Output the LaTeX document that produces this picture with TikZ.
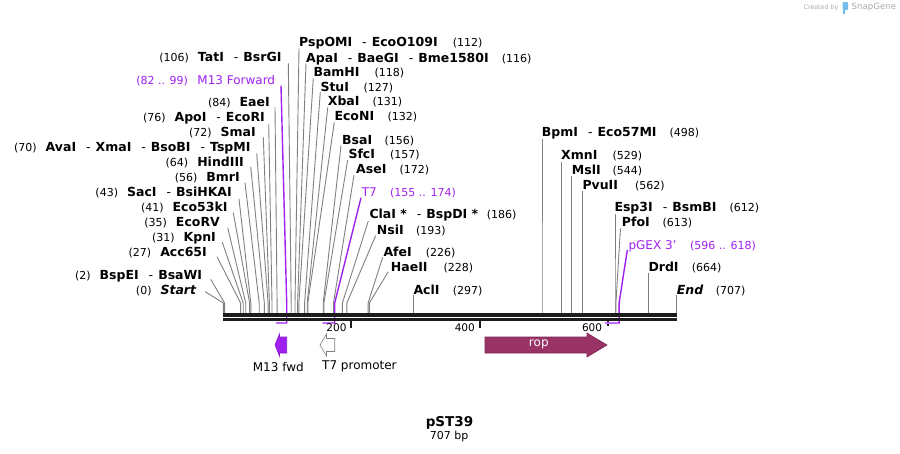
\documentclass[tikz,border=0pt]{standalone}
\usepackage{fontspec}
\setmainfont{DejaVu Sans}
\definecolor{ln}{RGB}{128,128,128}
\definecolor{pp}{RGB}{160,32,240}
\definecolor{ropc}{RGB}{153,51,102}
\definecolor{bb}{RGB}{28,28,28}
\definecolor{sg}{RGB}{170,170,170}
\definecolor{sgb}{RGB}{120,190,235}
\newcommand{\ensep}{\hspace{10pt}\textmd{-}\hspace{5pt}}
% left-side label: id, right x, y, name, (unused), pos, site x, end x, end y
\newcommand{\LL}[9]{%
  \node[nm,anchor=base east] (n#1) at (#2,#3+4.4) {#4};
  \node[ps,anchor=base east] (p#1) at ([xshift=-8.6pt]n#1.base west) {#6};
  \coordinate (b#1) at (#7,313);
  \coordinate (s#1) at (#7,303);
  \coordinate (e#1) at (#8,#9);
  \draw[cut] (b#1) -- (s#1) -- (e#1);}
% right-side label: id, left x, y, name, pos x, pos, site x, end x, end y
\newcommand{\RL}[9]{%
  \node[nm,anchor=base west] (n#1) at (#2,#3+4.4) {#4};
  \node[ps,anchor=base west] (p#1) at (#5,#3+4.4) {#6};
  \coordinate (b#1) at (#7,313);
  \coordinate (s#1) at (#7,303);
  \coordinate (e#1) at (#8,#9);
  \draw[cut] (b#1) -- (s#1) -- (e#1);}
\begin{document}
\begin{tikzpicture}[x=1pt,y=-1pt,
  nm/.style={font=\fontsize{12.5}{14}\selectfont\bfseries, inner sep=0pt},
  ps/.style={font=\fontsize{11}{13}\selectfont, inner sep=0pt},
  pl/.style={font=\fontsize{12}{14}\selectfont, text=pp, inner sep=0pt},
  pr/.style={font=\fontsize{11}{13}\selectfont, text=pp, inner sep=0pt},
  cut/.style={draw=ln, line width=0.9pt},
  pcut/.style={draw=pp, line width=1.4pt},
  bone/.style={draw=bb},
  tick/.style={draw=bb, line width=2pt},
  sc/.style={font=\fontsize{10.5}{12}\selectfont, inner sep=0pt, anchor=base east},
  feat/.style={line width=0.6pt},
  flab/.style={font=\fontsize{12}{14}\selectfont, inner sep=0pt}]
\useasboundingbox (0,0) rectangle (900,453);

% left labels
\LL{TatI}{281.7}{56.7}{TatI\ensep BsrGI}{}{(106)}{291.2}{288.3}{63.3}
\LL{EaeI}{270}{101.7}{EaeI}{}{(84)}{277.1}{275}{107.3}
\LL{ApoI}{265}{117.3}{ApoI\ensep EcoRI}{}{(76)}{272.0}{268.7}{124}
\LL{SmaI}{256}{131.7}{SmaI}{}{(72)}{269.4}{263.3}{137.3}
\LL{AvaI}{250.7}{147.3}{AvaI\ensep XmaI\ensep BsoBI\ensep TspMI}{}{(70)}{268.1}{256.7}{153.3}
\LL{HindIII}{244}{161.7}{HindIII}{}{(64)}{264.3}{250.7}{166.7}
\LL{BmrI}{240}{176.7}{BmrI}{}{(56)}{259.2}{245}{182.7}
\LL{SacI}{232}{191.7}{SacI\ensep BsiHKAI}{}{(43)}{250.8}{239}{199}
\LL{EcoFT}{227.7}{206.7}{Eco53kI}{}{(41)}{249.6}{233.3}{212.7}
\LL{EcoRV}{220}{221.7}{EcoRV}{}{(35)}{245.7}{227.7}{227.7}
\LL{KpnI}{216}{236.7}{KpnI}{}{(31)}{243.2}{222.3}{242.3}
\LL{Acc}{207}{251.7}{Acc65I}{}{(27)}{240.6}{217}{256.7}
\LL{BspEI}{202.3}{275}{BspEI\ensep BsaWI}{}{(2)}{224.6}{210.7}{279.3}
\LL{Start}{196.7}{290}{\textit{Start}}{}{(0)}{223.3}{205.3}{291.7}

% right labels
\RL{PspOMI}{299}{41.7}{PspOMI\ensep EcoO109I}{452.7}{(112)}{295.0}{299}{48.5}
\RL{ApaI}{306}{57.7}{ApaI\ensep BaeGI\ensep Bme1580I}{501.7}{(116)}{297.6}{306}{63.3}
\RL{BamHI}{313.3}{72.3}{BamHI}{374.3}{(118)}{298.9}{313.3}{78.3}
\RL{StuI}{320.3}{86.7}{StuI}{363.3}{(127)}{304.6}{320.3}{92}
\RL{XbaI}{327.7}{101}{XbaI}{372.3}{(131)}{307.2}{327.7}{107.5}
\RL{EcoNI}{334.3}{115.7}{EcoNI}{387.3}{(132)}{307.8}{334.3}{122.3}
\RL{BsaI}{342}{140}{BsaI}{384.3}{(156)}{323.2}{341}{145.7}
\RL{SfcI}{348.3}{154.3}{SfcI}{390}{(157)}{323.9}{347.7}{160}
\RL{AseI}{356}{169}{AseI}{399.3}{(172)}{333.5}{354}{175}
\RL{ClaI}{369.3}{214.3}{ClaI *\ensep BspDI *}{486.7}{(186)}{342.4}{368.3}{221}
\RL{NsiI}{376.7}{230}{NsiI}{416}{(193)}{346.9}{375.7}{235.5}
\RL{AfeI}{383.3}{251.7}{AfeI}{425.7}{(226)}{368.1}{382.7}{257.3}
\RL{HaeII}{390.7}{266.7}{HaeII}{443.3}{(228)}{369.3}{388.3}{271.7}
\RL{AclI}{413.3}{290}{AclI}{452.7}{(297)}{413.5}{413.5}{295}
\RL{BpmI}{541.7}{132.3}{BpmI\ensep Eco57MI}{669.3}{(498)}{542}{542}{139.3}
\RL{XmnI}{561}{155}{XmnI}{612.3}{(529)}{561.5}{561.5}{161.7}
\RL{MslI}{571.7}{170}{MslI}{612.3}{(544)}{571.7}{571.7}{176}
\RL{PvuII}{582.3}{185}{PvuII}{635}{(562)}{582.5}{582.5}{191}
\RL{Esp}{614.3}{207.3}{Esp3I\ensep BsmBI}{729.3}{(612)}{615}{615}{214}
\RL{PfoI}{621.7}{222.3}{PfoI}{662.3}{(613)}{615.9}{620.5}{228.3}
\RL{DrdI}{648.3}{266.7}{DrdI}{691.7}{(664)}{648.6}{648.6}{273.3}
\RL{End}{676.7}{290}{\textit{End}}{715.7}{(707)}{676.5}{676.5}{295}

% primer sites (purple)
\node[pl,anchor=base east] (nM13) at (275.3,84.4) {M13 Forward};
\node[pr,anchor=base east] (pM13) at ([xshift=-9pt]nM13.base west) {(82 .. 99)};
\coordinate (aM13) at (275.8,323);
\coordinate (bM13) at (286.7,323);
\coordinate (sM13) at (286.7,303);
\coordinate (eM13) at (281,85.7);
\draw[pcut] (aM13) -- (bM13) -- (sM13) -- (eM13);

\node[pl,anchor=base west] (nT7) at (361.7,196.1) {T7};
\node[pr,anchor=base west] (pT7) at (390,196.1) {(155 .. 174)};
\coordinate (aT7) at (322.6,323);
\coordinate (bT7) at (334.7,323);
\coordinate (sT7) at (334.7,303);
\coordinate (eT7) at (361,197.7);
\draw[pcut] (aT7) -- (bT7) -- (sT7) -- (eT7);

\node[pl,anchor=base west] (nGEX) at (628.3,249.4) {pGEX 3\symbol{39}};
\node[pr,anchor=base west] (pGEX) at (690,249.4) {(596 .. 618)};
\coordinate (aGEX) at (605,323);
\coordinate (bGEX) at (619.1,323);
\coordinate (sGEX) at (619.1,303);
\coordinate (eGEX) at (627.3,250);
\draw[pcut] (aGEX) -- (bGEX) -- (sGEX) -- (eGEX);

% backbone
\coordinate (bbL1) at (223.3,315);
\coordinate (bbR1) at (677,315);
\coordinate (bbL2) at (223.3,319.4);
\coordinate (bbR2) at (677,319.4);
\draw[bone, line width=3.2pt] (bbL1) -- (bbR1);
\draw[bone, line width=2.8pt] (bbL2) -- (bbR2);

% scale
\coordinate (t200a) at (351,320.8); \coordinate (t200b) at (351,327.5);
\coordinate (t400a) at (479.5,320.8); \coordinate (t400b) at (479.5,327.5);
\coordinate (t600a) at (607.6,320.8); \coordinate (t600b) at (607.6,327.5);
\draw[tick] (t200a) -- (t200b);
\draw[tick] (t400a) -- (t400b);
\draw[tick, dash pattern=on 1.5pt off 2pt] (t600a) -- (t600b);
\node[sc] (l200) at (346.7,331.3) {200};
\node[sc] (l400) at (475,331.3) {400};
\node[sc] (l600) at (602.3,331.3) {600};

% features
\draw[feat, draw=pp!85!black, fill=pp] (275,345) -- (279.5,334) -- (279.5,337) -- (286.7,337) -- (286.7,353) -- (279.5,353) -- (279.5,356) -- cycle;
\node[flab] (lM13) at (278.3,366.7) {M13 fwd};

\draw[feat, draw=ln, fill=white] (320,345) -- (326.5,334) -- (326.5,338.5) -- (334.7,338.5) -- (334.7,351.5) -- (326.5,351.5) -- (326.5,356) -- cycle;
\node[flab,anchor=west] (lT7) at (322,366.7) {T7 promoter};

\draw[feat, draw=ropc!80!black, fill=ropc] (485,337) -- (587,337) -- (587,333) -- (607,345) -- (587,357) -- (587,353) -- (485,353) -- cycle;
\node[flab, text=white] (lrop) at (538.8,344.6) {rop};

% title
\node[font=\fontsize{13.5}{15}\selectfont\bfseries, inner sep=0pt] (title) at (449.5,422.7) {pST39};
\node[font=\fontsize{11}{13}\selectfont, inner sep=0pt] (bp) at (449.2,436.9) {707 bp};

% watermark
\node[font=\fontsize{6.3}{7}\selectfont, text=sg, inner sep=0pt, anchor=east] (cb) at (838.5,7.5) {Created by};
\fill[sgb, rounded corners=1pt] (842.5,2) rectangle (848,10);
\fill[sgb] (842.5,9) rectangle (845,13.5);
\node[font=\fontsize{8.6}{10}\selectfont, text=sg, inner sep=0pt, anchor=west] (sgn) at (851.5,7.5) {SnapGene};
\end{tikzpicture}
\end{document}
